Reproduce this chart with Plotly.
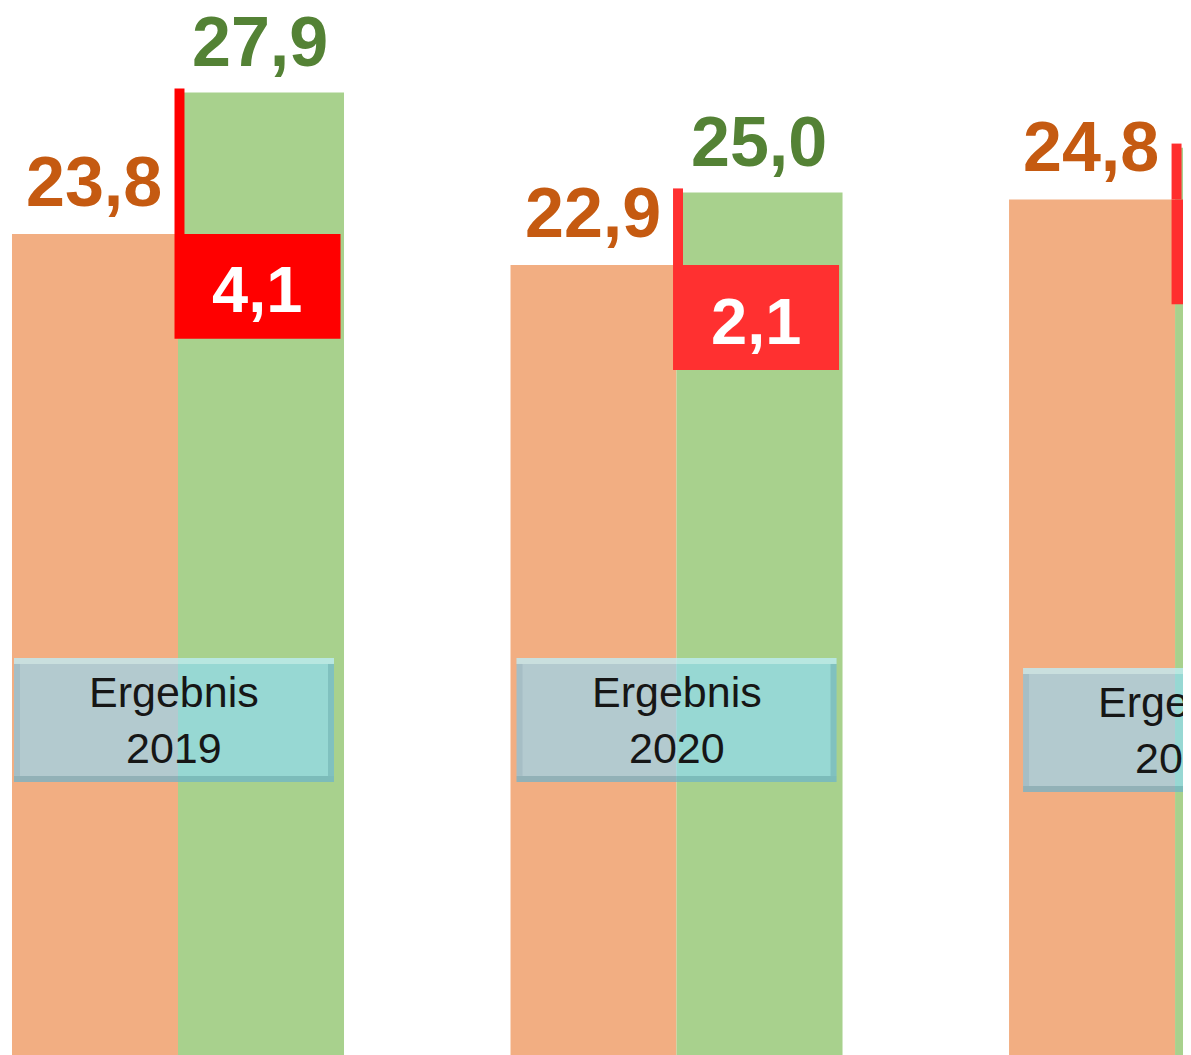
import plotly.graph_objects as go

# ---- data ----
years = ["2019", "2020", "2021"]
plan_values = [23.8, 22.9, 24.8]      # orange bars
result_values = [27.9, 25.0, 26.3]    # green bars
diff_values = [4.1, 2.1, 1.5]         # red boxes
box_titles = ["Ergebnis<br>2019", "Ergebnis<br>2020", "Ergebnis<br>2021"]

# ---- styles ----
ORANGE = "#F2AE82"
GREEN = "#A8D18D"
ORANGE_TXT = "#C55A11"
GREEN_TXT = "#548235"
RED = ["#FF0000", "#FF3030", "#FF2E2E"]
RED_BOX_H = 3.04          # fixed height of red boxes (y units)
LINE_EXT = 0.12           # red stem sticks slightly above green top
BAR_W = 0.333
FONT = "Liberation Sans, Arial, sans-serif"

fig = go.Figure()

fig.add_trace(go.Bar(x=years, y=plan_values, offset=-BAR_W, width=BAR_W,
                     marker=dict(color=ORANGE, line=dict(width=0)), hoverinfo="skip"))
fig.add_trace(go.Bar(x=years, y=result_values, offset=0, width=BAR_W,
                     marker=dict(color=GREEN, line=dict(width=0)), hoverinfo="skip"))
# red difference boxes hanging below the orange level
fig.add_trace(go.Bar(x=years, y=[-RED_BOX_H] * len(years), base=plan_values,
                     offset=-0.007, width=BAR_W,
                     marker=dict(color=RED, line=dict(width=0)), hoverinfo="skip"))
# red stem from orange level up to green top
fig.add_trace(go.Bar(x=years, y=[r - p + LINE_EXT for r, p in zip(result_values, plan_values)],
                     base=plan_values, offset=-0.007, width=0.02,
                     marker=dict(color=RED, line=dict(width=0)), hoverinfo="skip"))

def fmt(v):
    return f"{v:.1f}".replace(".", ",")

ann = []
for i, y in enumerate(years):
    ann.append(dict(x=i, y=plan_values[i], xref="x", yref="y", text="<b>" + fmt(plan_values[i]) + "</b>",
                    xshift=-84, yshift=11, yanchor="bottom", xanchor="center", showarrow=False,
                    font=dict(family=FONT, size=70, color=ORANGE_TXT)))
    ann.append(dict(x=i, y=result_values[i], xref="x", yref="y", text="<b>" + fmt(result_values[i]) + "</b>",
                    xshift=82, yshift=10, yanchor="bottom", xanchor="center", showarrow=False,
                    font=dict(family=FONT, size=70, color=GREEN_TXT)))
    ann.append(dict(x=i, y=plan_values[i], xref="x", yref="y", text="<b>" + fmt(diff_values[i]) + "</b>",
                    xshift=79, yshift=-56, yanchor="middle", xanchor="center", showarrow=False,
                    font=dict(family=FONT, size=65, color="white")))

# "Ergebnis" boxes (translucent bevelled panels)
box_cy = [0.320, 0.320, 0.3104]   # vertical centre in paper units
box_dx = [-4, 0, 8]
shapes = []
for i, y in enumerate(years):
    common = dict(xref="x", yref="paper", xsizemode="pixel", ysizemode="pixel",
                  xanchor=i, yanchor=box_cy[i], layer="above")
    cx = box_dx[i]
    shapes.append(dict(type="rect", x0=cx - 160, x1=cx + 160, y0=-62, y1=62,
                       fillcolor="rgba(140,219,255,0.62)", line=dict(width=0), **common))
    shapes.append(dict(type="rect", x0=cx - 160, x1=cx + 160, y0=56, y1=62,
                       fillcolor="rgba(235,255,245,0.40)", line=dict(width=0), **common))
    shapes.append(dict(type="rect", x0=cx - 160, x1=cx + 160, y0=-62, y1=-56,
                       fillcolor="rgba(30,90,100,0.22)", line=dict(width=0), **common))
    shapes.append(dict(type="rect", x0=cx + 154, x1=cx + 160, y0=-56, y1=56,
                       fillcolor="rgba(30,90,100,0.18)", line=dict(width=0), **common))
    shapes.append(dict(type="rect", x0=cx - 160, x1=cx - 154, y0=-56, y1=56,
                       fillcolor="rgba(60,90,120,0.10)", line=dict(width=0), **common))
    ann.append(dict(x=i, y=box_cy[i], xref="x", yref="paper", text=box_titles[i],
                    xshift=cx, yshift=0, yanchor="middle", xanchor="center", showarrow=False,
                    font=dict(family=FONT, size=43, color="#161616")))

fig.update_layout(
    width=1183, height=1047,
    margin=dict(l=0, r=0, t=0, b=0),
    barmode="overlay",
    showlegend=False,
    paper_bgcolor="white", plot_bgcolor="white",
    xaxis=dict(type="category", range=[-0.341, 2.032], visible=False, showgrid=False, fixedrange=True),
    yaxis=dict(range=[0, 30.35], visible=False, showgrid=False, zeroline=False, fixedrange=True),
    annotations=ann, shapes=shapes,
)

fig.write_html("out.html")
